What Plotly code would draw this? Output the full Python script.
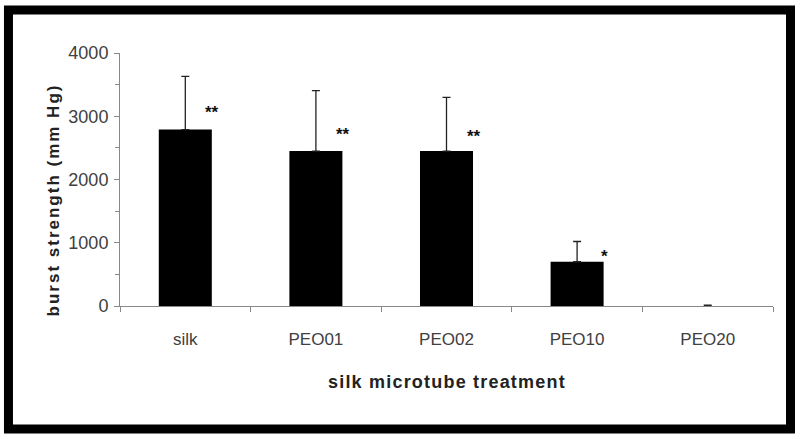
import plotly.graph_objects as go

# silk microtube burst strength data
treatments = ["silk", "PEO01", "PEO02", "PEO10", "PEO20"]
burst_mean = [2790, 2450, 2450, 700, 0]
burst_sd = [840, 955, 850, 320, 15]
stars = ["**", "**", "**", "*", ""]
star_y = [3130, 2780, 2750, 840, 0]

fig = go.Figure()
fig.add_trace(go.Bar(
    x=treatments, y=burst_mean,
    marker=dict(color="black", line=dict(width=0)),
    error_y=dict(type="data", array=burst_sd, arrayminus=[0] * len(burst_sd),
                 symmetric=False, color="#222222", thickness=1.3, width=4),
    showlegend=False,
))

for t, s, yv in zip(treatments, stars, star_y):
    if s:
        fig.add_annotation(x=t, y=yv, text="<b>" + s + "</b>", showarrow=False,
                           xshift=27, yshift=-4,
                           font=dict(family="Liberation Sans, Arial", size=17, color="#111111"))

# axis titles placed as annotations
fig.add_annotation(xref="paper", yref="paper", x=-0.1180, y=0.419, textangle=-90,
                   text='<b><span style="letter-spacing:2px">burst strength (mm Hg)</span></b>',
                   showarrow=False, font=dict(size=17, color="#222222"))
fig.add_annotation(xref="paper", yref="paper", x=0.5, y=-0.348,
                   text='<b><span style="letter-spacing:1.2px">silk microtube treatment</span></b>',
                   showarrow=False, font=dict(size=18, color="#222222"))

# thick black frame around the whole chart
fig.add_shape(type="rect", xref="paper", yref="paper",
              x0=-0.1708, x1=1.0268, y0=-0.4862, y1=1.1700,
              line=dict(color="black", width=9), fillcolor="rgba(0,0,0,0)", layer="below")

fig.update_layout(
    width=800, height=439,
    margin=dict(l=120, r=27, t=53, b=133),
    paper_bgcolor="white", plot_bgcolor="white",
    bargap=0.594,
    font=dict(family="Liberation Sans, Arial", color="#404040"),
)
fig.update_xaxes(
    showline=True, linecolor="#888888", linewidth=1,
    ticks="outside", tickson="boundaries", ticklen=5, tickcolor="#888888",
    tickfont=dict(size=17, color="#404040"),
    ticklabelstandoff=18,
)
fig.update_yaxes(
    range=[0, 4000], dtick=1000, showgrid=False, zeroline=False,
    showline=True, linecolor="#888888", linewidth=1,
    ticks="outside", ticklen=5, tickcolor="#888888",
    minor=dict(dtick=500, ticks="outside", ticklen=4, tickcolor="#888888"),
    tickfont=dict(size=18, color="#404040"),
    ticklabelstandoff=2,
)

fig.write_html("out.html", config={"displayModeBar": False},
               post_script="document.body.style.margin='0px';")
